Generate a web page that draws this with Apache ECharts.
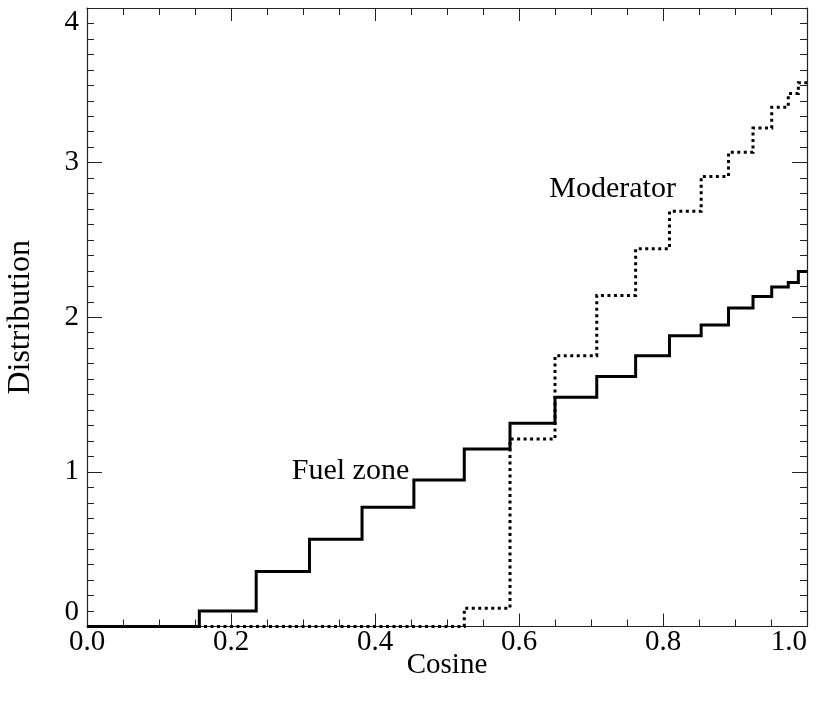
<!DOCTYPE html>
<html>
<head>
<meta charset="utf-8">
<script src="https://cdn.jsdelivr.net/npm/echarts@6/dist/echarts.min.js"></script>
<style>html,body{margin:0;padding:0;background:#fff}#c{width:829px;height:709px}</style>
</head>
<body>
<div id="c"></div>
<script>
// Bin edges (cosine) shared by both series
const binEdges = [0, 0.156, 0.235, 0.309, 0.382, 0.454, 0.524, 0.5875, 0.65, 0.708, 0.762, 0.809, 0.853, 0.891, 0.925, 0.951, 0.974, 0.988, 1.0];
// Distribution value in each bin (one fewer than edges)
const fuelZone  = [0, 0.10, 0.355, 0.565, 0.772, 0.948, 1.148, 1.315, 1.483, 1.617, 1.751, 1.88, 1.95, 2.06, 2.135, 2.195, 2.225, 2.296];
const moderator = [0, 0, 0, 0, 0, 0, 0.118, 1.212, 1.751, 2.141, 2.443, 2.685, 2.911, 3.067, 3.224, 3.358, 3.447, 3.516];
const xTicks = [0, 0.2, 0.4, 0.6, 0.8, 1.0];
const yTicks = [0, 1, 2, 3, 4];
const annotations = [
  { text: 'Moderator', x: 0.73, y: 2.83 },
  { text: 'Fuel zone', x: 0.366, y: 1.005 }
];

function steps(vals) {
  const pts = vals.map((v, i) => [binEdges[i], v]);
  pts.push([binEdges[binEdges.length - 1], vals[vals.length - 1]]);
  return pts;
}

const FONT = 'Liberation Serif';
const axisCol = '#222';

function xAx(pos, labels) {
  return {
    type: 'value', position: pos, min: xTicks[0], max: xTicks[xTicks.length - 1], interval: 0.2,
    axisLine: { show: true, onZero: false, lineStyle: { color: axisCol, width: 1.2 } },
    axisTick: { show: true, inside: true, length: 13, lineStyle: { color: axisCol } },
    minorTick: { show: true, splitNumber: 4, length: 7, lineStyle: { color: axisCol } },
    splitLine: { show: false },
    axisLabel: { show: labels, color: '#000', fontFamily: FONT, fontSize: 29, margin: 1,
      alignMaxLabel: 'right', formatter: v => v.toFixed(1) },
    name: labels ? 'Cosine' : '', nameLocation: 'middle', nameGap: 24, nameMoveOverlap: false,
    nameTextStyle: { color: '#000', fontFamily: FONT, fontSize: 29, verticalAlign: 'top' }
  };
}
function yAx(pos, labels) {
  return {
    type: 'value', position: pos, min: yTicks[0], max: yTicks[yTicks.length - 1], interval: 1,
    axisLine: { show: true, onZero: false, lineStyle: { color: axisCol, width: 1.2 } },
    axisTick: { show: true, inside: true, length: 15, lineStyle: { color: axisCol } },
    minorTick: { show: true, splitNumber: 10, length: 7, lineStyle: { color: axisCol } },
    splitLine: { show: false },
    axisLabel: { show: labels, color: '#000', fontFamily: FONT, fontSize: 29, margin: 8,
      verticalAlignMinLabel: 'bottom', verticalAlignMaxLabel: 'top' },
    name: labels ? 'Distribution' : '', nameLocation: 'middle', nameGap: 50, nameRotate: 90,
    nameMoveOverlap: false,
    nameTextStyle: { color: '#000', fontFamily: FONT, fontSize: 32 }
  };
}

const chart = echarts.init(document.getElementById('c'), null, { renderer: 'canvas' });
chart.setOption({
  backgroundColor: '#fff',
  animation: false,
  grid: { left: 87, right: 22, top: 8, bottom: 82.5, containLabel: false, outerBoundsMode: 'none' },
  xAxis: [xAx('bottom', true), xAx('top', false)],
  yAxis: [yAx('left', true), yAx('right', false)],
  series: [
    {
      name: 'Fuel zone', type: 'line', step: 'end', data: steps(fuelZone),
      showSymbol: false, symbol: 'none', clip: false,
      lineStyle: { color: '#000', width: 3, cap: 'butt', join: 'miter' }, z: 3
    },
    {
      name: 'Moderator', type: 'line', step: 'end', data: steps(moderator),
      showSymbol: false, symbol: 'none', clip: false,
      lineStyle: { color: '#000', width: 3, type: [3, 3.5], cap: 'butt', join: 'miter' }, z: 2
    },
    {
      type: 'scatter', symbolSize: 0, silent: true,
      itemStyle: { color: '#000', opacity: 1 },
      data: annotations.map(a => ({ value: [a.x, a.y], name: a.text })),
      label: { show: true, position: 'inside', formatter: p => p.name, opacity: 1,
        color: '#000', textBorderWidth: 0, textBorderColor: 'transparent',
        fontFamily: FONT, fontSize: 30 }
    }
  ]
});
</script>
</body>
</html>
